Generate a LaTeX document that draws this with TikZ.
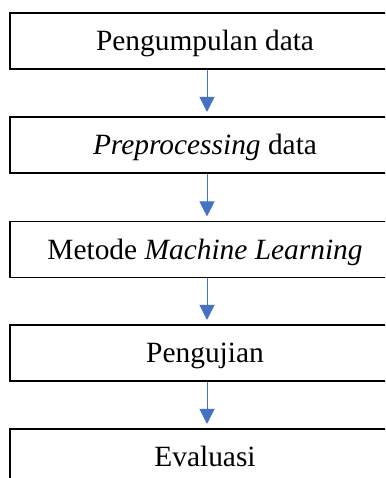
\documentclass[tikz,border=0pt]{standalone}
\usepackage{fontspec}
\setmainfont{Liberation Serif}
\usetikzlibrary{arrows.meta}
\definecolor{arrowblue}{HTML}{4472C4}
\begin{document}
\begin{tikzpicture}[x=1pt,y=1pt,
  stepbox/.style={draw=black, line width=1.1pt, minimum width=390pt, minimum height=56pt,
    text height=22pt, text depth=3pt, inner sep=0pt,
    font=\fontsize{29.4}{35}\selectfont},
  flow/.style={draw=arrowblue, line width=1pt, -{Triangle[width=15pt,length=15pt]}, shorten >=4.5pt}]
\useasboundingbox (0,0) rectangle (385,-478);
\clip (0,0) rectangle (385,-478);
\node[stepbox] (b1) at (205,-41) {Pengumpulan data};
\node[stepbox] (b2) at (205,-145) {\textit{Preprocessing} data};
\node[stepbox] (b3) at (205,-249.5) {Metode \textit{Machine Learning}};
\node[stepbox] (b4) at (205,-353) {Pengujian};
\node[stepbox] (b5) at (205,-457) {Evaluasi};
\draw[flow] ([xshift=2pt]b1.south) -- ([xshift=2pt]b2.north);
\draw[flow] ([xshift=2pt]b2.south) -- ([xshift=2pt]b3.north);
\draw[flow] ([xshift=2pt]b3.south) -- ([xshift=2pt]b4.north);
\draw[flow] ([xshift=2pt]b4.south) -- ([xshift=2pt]b5.north);
\end{tikzpicture}
\end{document}
